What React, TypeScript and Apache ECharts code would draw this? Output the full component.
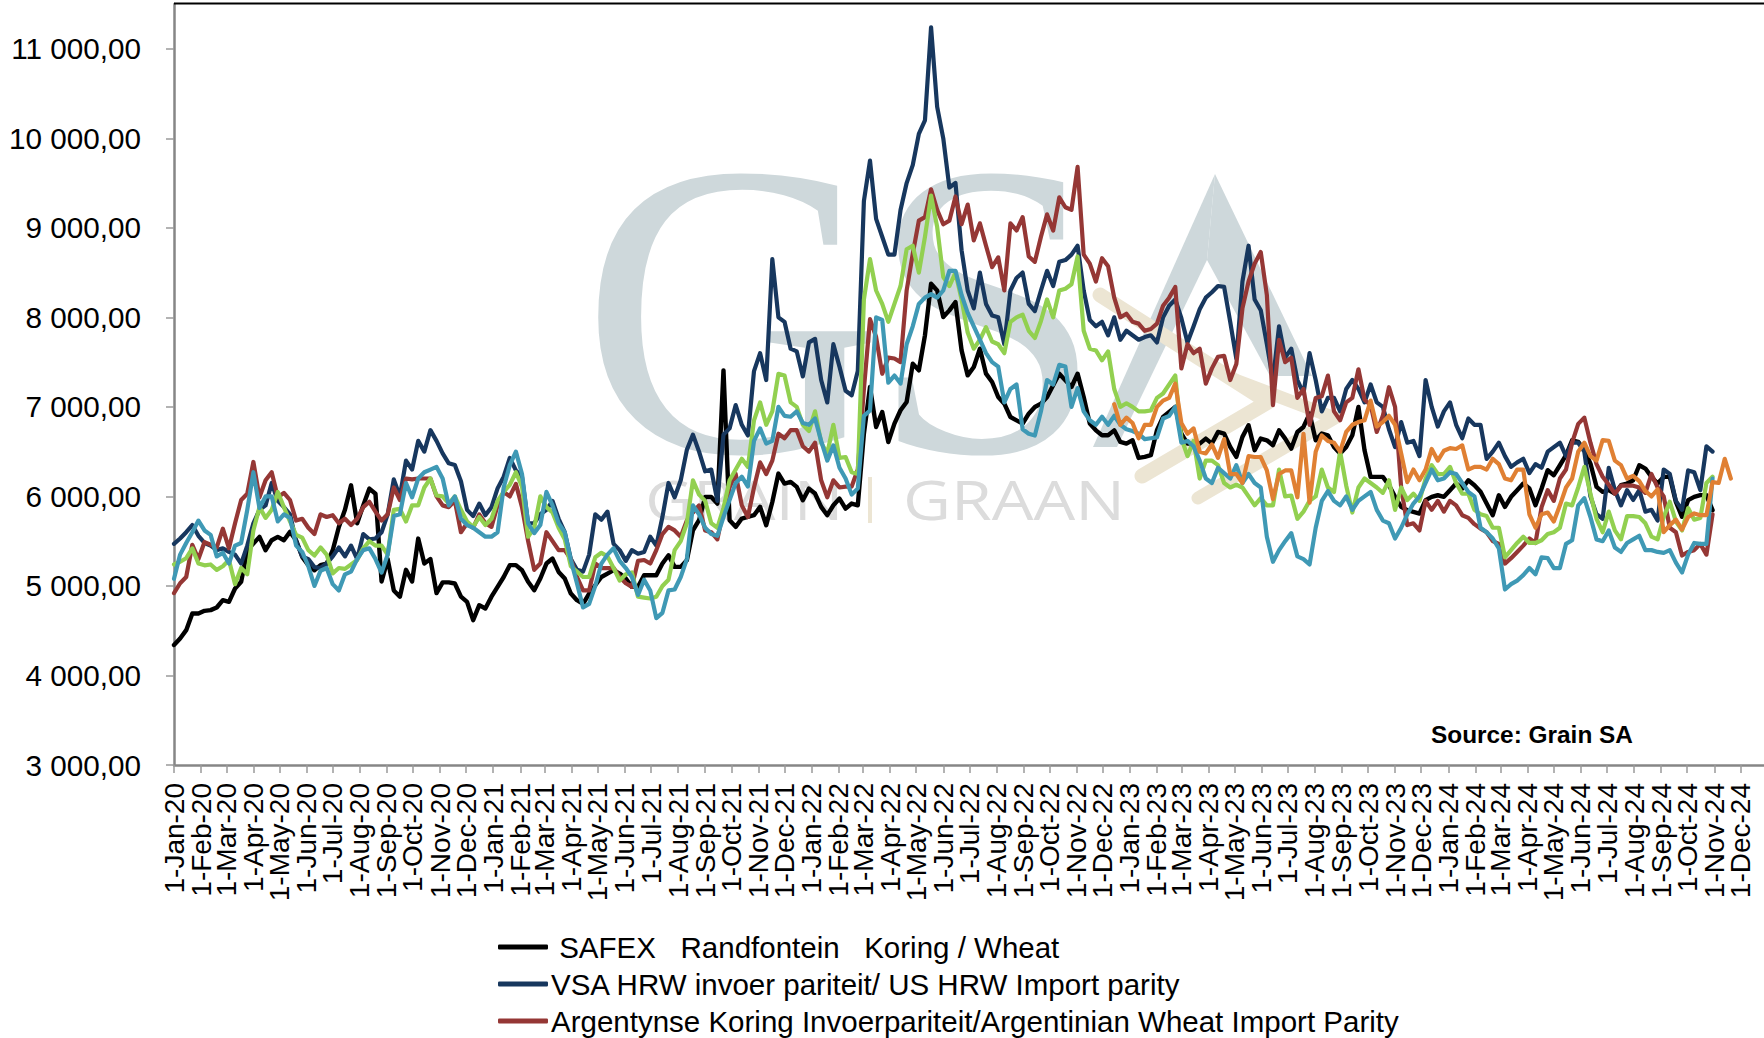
import React, { useEffect, useRef } from "react";
import * as echarts from "echarts";

const MONTHS = ["Jan","Feb","Mar","Apr","May","Jun","Jul","Aug","Sep","Oct","Nov","Dec"];
const yTicks = [3000,4000,5000,6000,7000,8000,9000,10000,11000];
const legendNames = [" SAFEX   Randfontein   Koring / Wheat","VSA HRW invoer pariteit/ US HRW Import parity","Argentynse Koring Invoerpariteit/Argentinian Wheat Import Parity"];
const sourceNote = "Source: Grain SA";

// Readings taken weekly from 1 Jan 2020
const safex = [4340,4413,4506,4692,4692,4722,4730,4759,4841,4822,4971,5046,5399,5473,5548,5399,5511,5548,5511,5604,5511,5325,5232,5176,5232,5250,5399,5659,5850,6124,5700,5900,6087,6030,5050,5300,4950,4880,5180,5050,5529,5250,5300,4920,5040,5040,
5027,4880,4822,4618,4785,4748,4880,4990,5100,5232,5232,5176,5046,4953,5083,5250,5306,5157,5083,4915,4841,4800,4915,5008,5100,5138,5176,5138,5083,4990,4990,5120,5120,5120,5250,5343,5213,5213,5287,5622,5734,5994,5994,5920,
7408,5734,5660,5753,5771,5790,5883,5678,5938,6255,6143,6162,6106,5957,6087,6032,5883,5790,5901,5976,5864,5920,5901,6701,7222,6775,6943,6608,6813,6962,7055,7482,7408,7799,8375,8301,
8003,8078,8170,7631,7352,7445,7650,7371,7278,7110,7036,6887,6850,6813,6924,6999,7036,7110,7241,7371,7296,7222,7371,7110,6813,6738,6683,6683,6738,6608,6590,6627,6430,
6441,6460,6739,6888,6944,7000,6700,6590,6590,6590,6646,6590,6720,6702,6553,6441,6665,6795,6516,6646,6627,6572,6739,6646,6534,6720,6776,6925,
6627,6702,6683,6553,6478,6553,6683,7000,6516,6218,6218,6218,6125,5995,5883,5846,5827,5809,5958,5995,6013,5995,6069,6144,6088,6181,6125,6051,5920,5790,6013,5883,5995,6069,
6144,6088,5902,6088,6293,6237,6348,6460,6627,6609,6516,6367,6107,6051,6070,6032,6125,6144,6181,6348,6311,6218,6144,6218,6218,5939,5772,5958,5995,6014,6014,5846];

const usHrw = [5470,5530,5600,5680,5560,5480,5450,5400,5420,5380,5350,5250,
5450,5700,5850,5900,6150,5950,5880,5800,5500,5330,5300,5210,5200,5250,5330,5430,5330,5450,5300,5580,5520,5530,5600,5800,6190,6000,6400,6300,6620,6500,6740,6620,6480,6370,
6350,6170,5850,5780,5920,5790,5880,6090,6220,6430,6290,6220,5700,5700,5800,5850,5950,5750,5600,5300,5180,5160,5350,5800,5740,5830,5470,5400,5280,5400,5360,5380,5550,5450,5770,6150,5990,6180,6520,6690,6500,6280,6300,5950,
6690,6760,7020,6800,6680,7400,7600,7300,8650,8000,7950,7650,7620,7340,7720,7760,7300,7050,7700,7450,7180,7130,7400,
9300,9750,9100,8900,8700,8700,9200,9500,9700,10050,10200,11240,10350,10000,9450,9500,8750,8300,8100,8500,8150,8020,8000,7700,8300,8440,8500,8150,8070,8300,8520,8350,8620,8640,8700,8800,8300,7970,7900,7950,7800,8000,7750,7850,7800,7750,
7780,7800,7720,8000,8130,8200,7990,7720,7900,8090,8220,8280,8350,8340,7950,7540,8400,8800,8200,8080,7700,7300,7900,7550,7650,7300,7150,7600,
7300,6950,7100,7100,6950,7200,7300,7200,7050,7250,7050,7000,6750,6550,6830,6600,6620,6450,7300,7000,6780,6950,7050,6800,6650,6870,6800,6800,6420,6500,6600,6450,6330,6380,
6420,6260,6360,6320,6500,6550,6600,6450,6600,6600,6500,6000,5800,5750,6320,6070,5900,6070,5960,6070,5830,5850,5730,6300,6250,5950,5850,6290,6270,6070,6560,6500];

const argentina = [4920,5030,5100,5460,5300,5490,5460,5430,5640,5420,5700,5960,6030,6385,5990,6180,6270,5990,6040,5960,5730,5750,5650,5580,5800,5770,5790,5700,5750,5680,5750,5880,5940,5830,5730,5800,6100,5960,6200,6190,6200,6200,6200,6000,5900,5880,
5950,5600,5700,5650,5800,5700,5660,5900,6050,6000,6140,5880,5500,5180,5250,5600,5500,5400,5400,5300,5100,4950,4950,5250,5200,5200,5200,5100,5030,4990,5280,5290,5250,5400,5580,5660,5620,5550,5730,5820,5900,5620,5600,5520,
5850,6100,6250,5900,5770,6100,6380,6250,6400,6700,6650,6740,6740,6560,6500,6600,6180,5990,6180,6100,6110,6110,6300,7200,7980,
7780,7370,7550,7540,7500,8300,8710,9080,9120,9430,9200,9040,9080,9350,9040,9260,8860,9050,8800,8560,8670,8300,9050,8970,9120,8680,8620,8900,9150,8970,9340,9230,9200,9680,8700,8600,8400,8660,8570,8220,8000,8040,7950,7930,
7850,7870,7930,8130,8220,8340,7430,7700,7600,7650,7260,7430,7560,7570,7300,7480,8100,8400,8600,8730,8250,7020,7750,7500,7550,7100,7200,6800,
7100,7120,7350,6950,6850,7050,7100,7420,7080,7020,6720,6900,7220,7000,6100,5680,5700,5620,5950,5850,5950,5830,5950,5900,5790,5760,5690,5640,5600,5500,5470,5250,5310,5380,
5450,5530,5480,5880,6070,5950,6200,6300,6600,6810,6880,6600,6360,6220,6130,6030,6120,6120,6120,6100,6040,6250,6100,6000,5650,5600,5340,5380,5400,5470,5350,5800];

const greenSeries = [5240,5270,5310,5420,5250,5230,5240,5180,5220,5290,5020,5200,5130,5620,5880,5760,5850,6050,5880,5720,5570,5540,5400,5340,5430,5350,5140,5200,5190,5240,5290,5420,5500,5450,5450,5350,5850,5860,5720,5900,5900,6100,6200,6010,6000,5920,
6000,5850,5720,5660,5770,5680,5750,5950,6050,6130,6270,6110,5550,5650,6000,5880,5820,5650,5520,5220,5160,5100,5100,5320,5370,5330,5200,5060,5130,5150,4880,4870,4860,4880,5000,5070,5400,5500,5700,6180,6020,5950,5700,5650,
5870,6180,6300,6420,6330,6850,7050,6800,6950,7370,7350,7050,7000,6800,6730,6950,6600,6480,6800,6430,6440,6270,6250,8200,8650,
8300,8150,7950,8150,8350,8760,8800,8500,8900,9360,9010,8450,8350,8500,8200,7830,7650,7750,7890,7730,7700,7600,7950,8000,8030,7850,7770,7960,8200,8000,8300,8320,8370,8680,7850,7650,7630,7520,7620,7200,7000,7040,7000,6950,
6950,6960,7100,7150,7250,7350,6650,6450,6620,6200,6400,6400,6350,6150,6100,6130,6100,6000,5900,5980,5900,5900,6300,6000,6010,5750,5830,5950,
6000,6300,6100,6050,6500,6120,5820,6100,6200,6150,6100,6040,6180,5850,6100,5960,6030,5950,6200,6350,6250,6250,6330,6150,6030,6030,5850,5800,5780,5650,5650,5320,5400,5480,
5550,5480,5480,5510,5580,5600,5650,5920,5900,6100,6330,6030,5750,5600,5830,5620,5520,5780,5780,5770,5700,5550,5520,5770,5940,5720,5620,5870,5740,5760,6150,6220];

const tealSeries = [5080,5350,5480,5600,5730,5620,5570,5330,5370,5250,5450,5480,5850,6270,5870,6000,6000,5720,5800,5760,5450,5380,5220,5000,5170,5200,5020,4950,5130,5160,5300,5400,5420,5300,5150,5350,5780,5800,6150,5990,6200,6270,6300,6330,6200,5900,
6000,5750,5680,5650,5600,5550,5550,5600,6100,6350,6500,6250,5700,5590,5680,6050,5900,5700,5600,5290,5030,4760,4800,5000,5250,5350,5420,5280,5200,5100,4900,5070,4950,4640,4700,4950,4960,5100,5300,5900,5800,5650,5580,5560,
5770,5960,6150,6220,6110,6620,6760,6590,6620,7000,6900,6890,6950,6820,6800,6870,6620,6400,6570,6320,6200,6020,6090,6900,6960,8000,7970,7270,7350,7260,7700,7900,8150,8220,8260,8220,
8300,8520,8520,8250,8050,7900,7750,7600,7500,7450,7050,7200,7250,6750,6700,6680,6950,7300,7250,7470,7450,7000,7210,6950,6850,6800,6890,6800,6900,6800,6750,6730,6700,
6640,6650,6660,6870,6900,7000,6600,6620,6560,6400,6200,6150,6320,6260,6200,6350,6150,6250,6150,6100,5550,5270,5400,5500,5590,5330,5300,5240,
5650,5950,6060,5950,5900,6000,5850,5950,6000,6050,5850,5730,5700,5530,5650,5800,5920,6000,6150,6300,6180,6200,6270,6250,6150,6050,6000,5650,5600,5530,5420,4960,5020,5060,
5120,5200,5130,5320,5310,5200,5200,5470,5510,5900,5980,5770,5520,5500,5620,5430,5380,5480,5520,5560,5400,5400,5380,5370,5400,5260,5150,5350,5480,5470,5470,6200];

const orangeStartWeek = 154;
const orangeSeries = [7030,6800,6880,6820,6650,6800,6800,7000,7070,7100,7260,6820,6700,6760,6500,6480,6580,6430,6640,6250,6250,6150,6450,6440,6440,6290,5970,6250,
6290,6290,5990,6700,5930,6500,6680,6620,6600,6500,6720,6800,6830,6850,7070,6780,6830,6900,6800,6480,6160,6300,6180,6300,6530,6400,6510,6540,6530,6570,6300,6330,6330,6300,6420,6360,6200,6180,6300,
6300,5800,5650,5800,5820,5720,5900,6100,6200,6500,6600,6450,6400,6630,6620,6400,6350,6200,6230,6170,6060,6000,6080,5600,5680,5740,5630,5770,5810,5790,5790,6160,6150,6420,6200];

const weekDate = (k: number) => new Date(2020, 0, 1 + k * 7).getTime();
const toPairs = (vals: number[], start = 0) => vals.map((v, i) => [weekDate(i + start), v]);

const monthTicks: number[] = [];
for (let y = 2020; y <= 2024; y++) for (let m = 0; m < 12; m++) monthTicks.push(new Date(y, m, 1).getTime());
// The axis range runs a hair past the first tick and on to the right edge; its two
// ends carry blank ticks so that every month keeps its own label.
const axisMin = monthTicks[0] - 1;
const axisMax = new Date(2024, 11, 28).getTime();
const xTickValues = [axisMin, ...monthTicks, axisMax];

const fmtMonth = (v: number) => {
  if (v === axisMin || v === axisMax) return "";
  const d = new Date(v);
  return `1-${MONTHS[d.getMonth()]}-${String(d.getFullYear()).slice(2)}`;
};
const fmtY = (v: number) => {
  const t = Math.floor(v / 1000);
  return `${t} 000,00`;
};

const FONT = "Liberation Sans";
const LOGO = "#ced8db";
const TAN = "#ece5d3";

const lineSeries = (name: string, color: string, data: number[][], width = 4.2) => ({
  name, type: "line", data, showSymbol: false, symbol: "none", smooth: false,
  lineStyle: { color, width, join: "round", cap: "round" }, itemStyle: { color },
  emphasis: { disabled: true }, animation: false, z: 5,
});

export default function App() {
  const ref = useRef<HTMLDivElement>(null);
  useEffect(() => {
    const chart = echarts.init(ref.current!, undefined, { renderer: "svg" });
    chart.setOption({
      animation: false,
      backgroundColor: "#ffffff",
      textStyle: { fontFamily: FONT },
      grid: { left: 174, top: 4, right: 0, bottom: 273, containLabel: false },
      xAxis: {
        type: "value",
        min: axisMin,
        max: axisMax,
        splitLine: { show: false },
        axisLine: { lineStyle: { color: "#868686", width: 2.5 } },
        axisTick: { show: true, length: 8, customValues: xTickValues, lineStyle: { color: "#9a9a9a", width: 1.5 } },
        axisLabel: { rotate: 90, margin: 18, fontSize: 28, color: "#000", fontFamily: FONT, customValues: xTickValues, formatter: fmtMonth, hideOverlap: false, showMinLabel: false, showMaxLabel: false },
      },
      yAxis: {
        type: "value",
        min: 3000,
        max: 11500,
        interval: 1000,
        splitLine: { show: false },
        axisLine: { show: true, lineStyle: { color: "#868686", width: 2.5 } },
        axisTick: { show: true, length: 8, customValues: yTicks, lineStyle: { color: "#9a9a9a", width: 1.5 } },
        axisLabel: { margin: 33, fontSize: 29.7, color: "#000", fontFamily: FONT, customValues: yTicks, formatter: fmtY, showMinLabel: true, showMaxLabel: true },
      },
      legend: {
        left: 493, top: 927, height: 240, orient: "vertical", itemWidth: 50, itemHeight: 5, itemGap: 7, icon: "roundRect",
        data: legendNames, selectedMode: false,
        textStyle: { fontSize: 29.5, color: "#000", fontFamily: FONT, lineHeight: 30, padding: [0, 0, 0, -2] },
      },
      graphic: { elements: [
        { type: "text", z: -5, silent: true, x: 581, y: 100, style: { text: "G", font: "420px Liberation Serif", fill: LOGO } },
        { type: "text", z: -5, silent: true, x: 870, y: 100, style: { text: "S", font: "420px Liberation Serif", fill: LOGO } },
        { type: "polygon", z: -5, silent: true, shape: { points: [[1215,174],[1093,447],[1117,447],[1207,260]] }, style: { fill: LOGO } },
        { type: "polygon", z: -5, silent: true, shape: { points: [[1215,174],[1207,260],[1270,376],[1312,376]] }, style: { fill: LOGO } },
        { type: "polyline", z: -4, silent: true, shape: { points: [[1100,295],[1268,402],[1142,476]] }, style: { stroke: TAN, lineWidth: 15, lineCap: "round", lineJoin: "round", fill: "none" } },
        { type: "polyline", z: -4, silent: true, shape: { points: [[1230,378],[1335,418],[1198,498]] }, style: { stroke: TAN, lineWidth: 13, lineCap: "round", lineJoin: "round", fill: "none" } },
        { type: "text", z: -5, silent: true, x: 645, y: 471, scaleX: 1.2, style: { text: "GRAIN", font: "55px Open Sans", fill: "#dcdcdc" } },
        { type: "line", z: -5, silent: true, shape: { x1: 870, y1: 477, x2: 870, y2: 523 }, style: { stroke: TAN, lineWidth: 4 } },
        { type: "text", z: -5, silent: true, x: 903, y: 471, scaleX: 1.2, style: { text: "GRAAN", font: "55px Open Sans", fill: "#dcdcdc" } },
        { type: "line", z: 8, silent: true, shape: { x1: 174, y1: 3.5, x2: 1764, y2: 3.5 }, style: { stroke: "#000", lineWidth: 2 } },
        { type: "text", z: 8, silent: true, x: 1431, y: 722, style: { text: sourceNote, font: "bold 24.4px Liberation Sans", fill: "#000" } },
      ] },
      series: [
        lineSeries(legendNames[0], "#000000", toPairs(safex), 4.4),
        lineSeries(legendNames[1], "#17375e", toPairs(usHrw)),
        lineSeries(legendNames[2], "#953735", toPairs(argentina)),
        lineSeries("Series 4", "#92d050", toPairs(greenSeries)),
        lineSeries("Series 5", "#3f99b5", toPairs(tealSeries)),
        lineSeries("Series 6", "#e08033", toPairs(orangeSeries, orangeStartWeek)),
      ],
    });
    return () => chart.dispose();
  }, []);
  return <div ref={ref} style={{ position: "fixed", left: 0, top: 0, width: 1764, height: 1038, background: "#fff" }} />;
}
